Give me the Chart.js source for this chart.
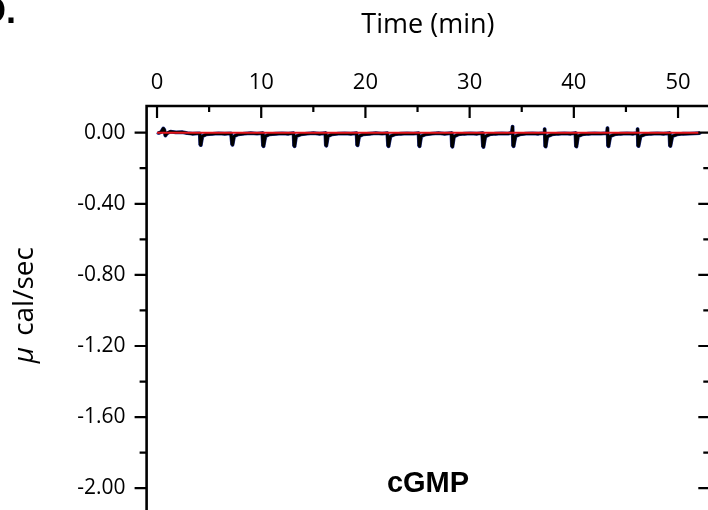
<!DOCTYPE html>
<html>
<head>
<meta charset="utf-8">
<script src="https://cdn.jsdelivr.net/npm/chart.js@4.4.1/dist/chart.umd.min.js"></script>
<style>
  html, body { margin: 0; padding: 0; background: #fff; overflow: hidden; width: 708px; height: 510px; }
  canvas { display: block; }
</style>
</head>
<body>
<canvas id="c" width="720" height="510"></canvas>
<script>
// ---- data ----
const panelLabel = 'D.';
const xTitle = 'Time (min)';
const yTitleSymbol = 'μ';
const yTitleUnit = 'cal/sec';
const ligandLabel = 'cGMP';

// raw thermogram (time in min, heat rate in µcal/sec)
const timeMin = [
  0.1, 0.4, 0.6, 0.7, 0.8, 0.95, 1.3, 1.8, 2.4, 2.9, 3.4, 3.9,
  4.1, 4.15, 4.2, 4.35, 4.7, 5.3, 5.9, 6.5, 7.1,
  7.2, 7.25, 7.4, 7.8, 8.4, 9.0, 9.6, 10.1,
  10.17, 10.22, 10.4, 10.8, 11.4, 12.0, 12.6, 13.1,
  13.15, 13.2, 13.35, 13.8, 14.4, 15.0, 15.6, 16.15,
  16.2, 16.25, 16.4, 16.8, 17.4, 18.0, 18.6, 19.15,
  19.2, 19.25, 19.4, 19.8, 20.4, 21.0, 21.6, 22.1,
  22.17, 22.22, 22.4, 22.8, 23.4, 24.0, 24.6, 25.1,
  25.15, 25.2, 25.35, 25.8, 26.4, 27.0, 27.6, 28.25,
  28.3, 28.35, 28.5, 28.9, 29.5, 30.1, 30.7, 31.2,
  31.28, 31.33, 31.5, 31.9, 32.5, 33.1, 33.7, 34.05, 34.12,
  34.17, 34.22, 34.4, 34.8, 35.4, 36.0, 36.6, 37.15, 37.2,
  37.25, 37.3, 37.45, 37.9, 38.5, 39.1, 39.7, 40.15,
  40.2, 40.25, 40.4, 40.8, 41.4, 42.0, 42.6, 43.18, 43.23,
  43.28, 43.33, 43.5, 43.9, 44.5, 45.1, 45.7, 46.08, 46.12,
  46.16, 46.21, 46.4, 46.8, 47.4, 48.0, 48.6, 49.17,
  49.22, 49.27, 49.45, 49.9, 50.5, 51.1, 51.6, 52.1
];
const heatRate = [
  -0.003, 0.004, 0.024, 0.016, -0.016, -0.004, 0.006, 0.002, 0.003, -0.003, -0.006, -0.004,
  -0.004, -0.066, -0.070, -0.020, -0.010, -0.007, -0.004, -0.006, -0.004,
  -0.064, -0.068, -0.020, -0.009, -0.005, -0.003, -0.005, -0.003,
  -0.072, -0.076, -0.020, -0.009, -0.006, -0.004, -0.006, -0.003,
  -0.072, -0.076, -0.020, -0.010, -0.005, -0.003, -0.006, -0.003,
  -0.070, -0.073, -0.020, -0.009, -0.005, -0.004, -0.006, -0.003,
  -0.068, -0.071, -0.020, -0.009, -0.006, -0.003, -0.005, -0.003,
  -0.072, -0.076, -0.020, -0.010, -0.006, -0.004, -0.005, -0.003,
  -0.072, -0.076, -0.020, -0.009, -0.005, -0.003, -0.006, -0.003,
  -0.075, -0.079, -0.022, -0.010, -0.006, -0.004, -0.006, -0.003,
  -0.076, -0.080, -0.022, -0.010, -0.006, -0.004, -0.005, 0.000, 0.034,
  -0.072, -0.076, -0.020, -0.010, -0.005, -0.004, -0.006, -0.002, 0.020,
  -0.075, -0.078, -0.022, -0.010, -0.006, -0.004, -0.006, -0.003,
  -0.075, -0.078, -0.020, -0.010, -0.006, -0.004, -0.005, -0.002, 0.026,
  -0.072, -0.076, -0.020, -0.010, -0.006, -0.004, -0.006, -0.002, 0.020,
  -0.072, -0.075, -0.020, -0.010, -0.006, -0.004, -0.006, -0.003,
  -0.072, -0.075, -0.020, -0.010, -0.006, -0.005, -0.004, -0.003
];
// fitted baseline (red)
const baselineTime = [0, 52.1];
const baselineRate = [0, 0];

// axis ranges / ticks
const xMin = -1, xMax = 53, xStep = 5, xLabelEvery = 10;
const yMin = -2.1, yMax = 0.15, yStep = 0.2, yLabelEvery = 0.4;

// ---- chart ----
const tracePts = timeMin.map((t, i) => ({ x: t, y: heatRate[i] }));
const basePts = baselineTime.map((t, i) => ({ x: t, y: baselineRate[i] }));

const isMajorX = v => Math.abs(v % xLabelEvery) < 1e-6;
const isMajorY = v => Math.abs(Math.round(v / yStep) % Math.round(yLabelEvery / yStep)) === 0;

const frameAndTicks = {
  id: 'frameAndTicks',
  afterDraw(chart) {
    const { ctx, chartArea: a, scales: { x, y } } = chart;
    ctx.save();
    ctx.strokeStyle = '#000';
    ctx.lineCap = 'butt';
    // frame
    ctx.lineWidth = 2.6;
    ctx.beginPath();
    ctx.moveTo(a.left, a.bottom + 5); ctx.lineTo(a.left, a.top); ctx.lineTo(a.right, a.top); ctx.lineTo(a.right, a.bottom + 5);
    ctx.stroke();
    // ticks
    ctx.lineWidth = 2.2;
    ctx.beginPath();
    x.ticks.forEach(t => {
      const px = x.getPixelForValue(t.value);
      const len = isMajorX(t.value) ? 12 : 6;
      ctx.moveTo(px, a.top); ctx.lineTo(px, a.top + len);
    });
    y.ticks.forEach(t => {
      const py = y.getPixelForValue(t.value);
      const maj = isMajorY(t.value);
      ctx.moveTo(a.left - (maj ? 12 : 7), py); ctx.lineTo(a.left, py);
      ctx.moveTo(a.right - (maj ? 11 : 6), py); ctx.lineTo(a.right, py);
    });
    ctx.stroke();

    // y-axis title (rotated), italic mu + unit
    ctx.fillStyle = '#000';
    ctx.save();
    ctx.translate(25, y.getPixelForValue(-0.97));
    ctx.rotate(-Math.PI / 2);
    ctx.textBaseline = 'middle';
    ctx.textAlign = 'left';
    const fSym = 'italic 28px "Open Sans"';
    const fUnit = '28px "Open Sans"';
    ctx.font = fSym; const wSym = ctx.measureText(yTitleSymbol).width;
    ctx.font = fUnit; const wUnit = ctx.measureText(yTitleUnit).width;
    const gap = 11;
    const total = wSym + gap + wUnit;
    ctx.font = fSym; ctx.fillText(yTitleSymbol, -total / 2, 0);
    ctx.font = fUnit; ctx.fillText(yTitleUnit, -total / 2 + wSym + gap, 0);
    ctx.restore();

    // ligand label
    ctx.font = 'bold 29px "Liberation Sans", Arial';
    ctx.textAlign = 'center';
    ctx.textBaseline = 'middle';
    ctx.fillText(ligandLabel, 428, y.getPixelForValue(-2.0) - 4);
    // panel label (cut off at the left edge)
    ctx.font = 'bold 36px "Liberation Sans", Arial';
    ctx.textAlign = 'right';
    ctx.textBaseline = 'alphabetic';
    ctx.fillText(panelLabel, 16, 23);
    ctx.restore();
  }
};

new Chart(document.getElementById('c'), {
  type: 'line',
  data: {
    datasets: [
      { label: 'baseline', data: basePts, borderColor: '#e3151c', borderWidth: 2, pointRadius: 0, tension: 0, order: 0 },
      { label: 'trace', data: tracePts, borderColor: '#000', borderWidth: 2.8, borderJoinStyle: 'round', pointRadius: 0, tension: 0, order: 1 },
      { label: 'raw', data: tracePts, borderColor: '#23328f', borderWidth: 3.8, borderJoinStyle: 'round', pointRadius: 1.5, pointBackgroundColor: '#23328f', pointBorderWidth: 0, tension: 0, order: 2 }
    ]
  },
  options: {
    responsive: false,
    animation: false,
    devicePixelRatio: 1,
    layout: { padding: { left: 0, top: 0, right: 10.7, bottom: 0 } },
    plugins: { legend: { display: false }, tooltip: { enabled: false } },
    scales: {
      x: {
        type: 'linear', position: 'top', min: xMin, max: xMax,
        grid: { display: false, drawTicks: false },
        border: { display: false },
        ticks: {
          stepSize: xStep, includeBounds: false, autoSkip: false, maxRotation: 0,
          padding: 10, color: '#000',
          font: { family: 'Open Sans', size: 22 },
          callback: v => isMajorX(v) ? String(v) : ''
        },
        title: { display: true, text: xTitle, color: '#000', font: { family: 'Open Sans', size: 27 }, padding: { top: 9, bottom: 0 } },
        afterFit: s => { s.height = 106; s.paddingLeft = 0; s.paddingRight = 0; }
      },
      y: {
        type: 'linear', position: 'left', min: yMin, max: yMax,
        grid: { display: false, drawTicks: false },
        border: { display: false },
        ticks: {
          stepSize: yStep, includeBounds: false, autoSkip: false,
          padding: 21, color: '#000',
          font: { family: 'Open Sans', size: 21 },
          callback: v => isMajorY(v) ? (Math.abs(v) < 1e-9 ? '0.00' : v.toFixed(2)) : ''
        },
        afterFit: s => { s.width = 146.6; s.paddingTop = 0; s.paddingBottom = 0; }
      }
    }
  },
  plugins: [frameAndTicks]
});
</script>
</body>
</html>
